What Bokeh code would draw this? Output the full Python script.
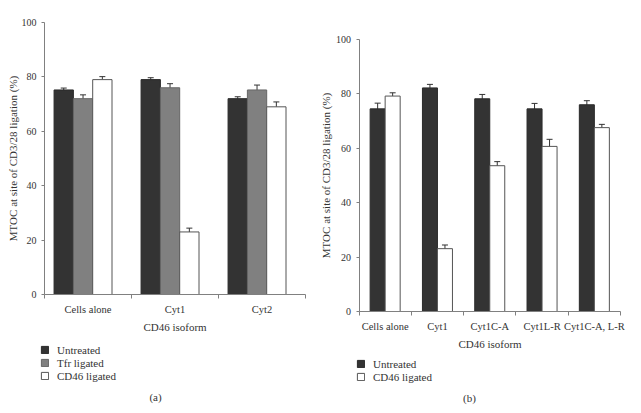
from bokeh.plotting import figure
from bokeh.layouts import row
from bokeh.models import (Range1d, FixedTicker, ColumnDataSource, Whisker, TeeHead,
                          Legend, LegendItem, Label)
from bokeh.embed import file_html
from bokeh.resources import INLINE

# ---------------- data ----------------
cats_a = ["Cells alone", "Cyt1", "Cyt2"]
untreated_a = [75.2, 79.0, 72.0]
untreated_a_err = [0.7, 0.7, 0.7]
tfr_a = [72.0, 76.0, 75.2]
tfr_a_err = [1.4, 1.5, 1.8]
cd46_a = [79.0, 23.0, 69.0]
cd46_a_err = [1.1, 1.4, 1.8]

cats_b = ["Cells alone", "Cyt1", "Cyt1C-A", "Cyt1L-R", "Cyt1C-A, L-R"]
untreated_b = [74.5, 82.2, 78.2, 74.5, 76.0]
untreated_b_err = [2.1, 1.3, 1.6, 2.0, 1.5]
cd46_b = [79.2, 23.1, 53.6, 60.7, 67.6]
cd46_b_err = [1.2, 1.35, 1.5, 2.6, 1.2]

y_ticks = [0, 20, 40, 60, 80, 100]

series_a = ["Untreated", "Tfr ligated", "CD46 ligated"]
series_b = ["Untreated", "CD46 ligated"]

FONT = "Liberation Serif"
TXT = "#333333"
AX = "#808080"
FILLS = {"Untreated": "#333333", "Tfr ligated": "#808080", "CD46 ligated": "white"}
LINES = {"Untreated": "#2a2a2a", "Tfr ligated": "#666666", "CD46 ligated": "#555555"}

YLABEL = "MTOC at site of CD3/28 ligation (%)"
XLABEL = "CD46 isoform"

H = 405  # figure height (px)


def make_panel(width, cats, ax_left, ax_right, y0_px, y100_px, ylab_standoff):
    """Figure whose frame covers the whole canvas; axes fixed at x=0 / y=0."""
    n = len(cats)
    ppx = (ax_right - ax_left) / n
    ppy = (y0_px - y100_px) / 100.0
    p = figure(width=width, height=H, output_backend="svg", toolbar_location=None,
               min_border=0, min_border_left=0, min_border_right=0,
               min_border_top=0, min_border_bottom=0,
               x_range=Range1d(-ax_left / ppx, n + (width - ax_right) / ppx),
               y_range=Range1d(-(H - y0_px) / ppy, 100 + y100_px / ppy))
    p.xgrid.visible = False
    p.ygrid.visible = False
    p.outline_line_color = None
    p.background_fill_color = "white"
    p.border_fill_color = "white"

    xa = p.xaxis[0]
    centers = [i + 0.5 for i in range(n)]
    xa.fixed_location = 0
    xa.bounds = (0, n)
    xa.ticker = FixedTicker(ticks=centers, minor_ticks=list(range(n + 1)))
    xa.major_label_overrides = {c: name for c, name in zip(centers, cats)}
    xa.major_tick_out = 0
    xa.major_tick_in = 0
    xa.minor_tick_out = 4
    xa.minor_tick_in = 0
    xa.minor_tick_line_color = AX
    xa.axis_line_color = AX
    xa.major_label_text_font = FONT
    xa.major_label_text_font_size = "10.5px"
    xa.major_label_text_color = TXT
    xa.major_label_standoff = 5
    xa.axis_label = XLABEL
    xa.axis_label_text_font = FONT
    xa.axis_label_text_font_size = "11px"
    xa.axis_label_text_font_style = "normal"
    xa.axis_label_text_color = TXT
    xa.axis_label_standoff = 3

    ya = p.yaxis[0]
    ya.fixed_location = 0
    ya.bounds = (0, 100)
    ya.ticker = FixedTicker(ticks=y_ticks, minor_ticks=[])
    ya.major_tick_out = 3
    ya.major_tick_in = 0
    ya.major_tick_line_color = AX
    ya.axis_line_color = AX
    ya.major_label_text_font = FONT
    ya.major_label_text_font_size = "10px"
    ya.major_label_text_color = TXT
    ya.major_label_standoff = 5
    ya.axis_label = YLABEL
    ya.axis_label_text_font = FONT
    ya.axis_label_text_font_size = "11px"
    ya.axis_label_text_font_style = "normal"
    ya.axis_label_text_color = TXT
    ya.axis_label_standoff = ylab_standoff
    return p


def add_series(p, vals, errs, offset, width, name):
    xs = [i + 0.5 + offset for i in range(len(vals))]
    src = ColumnDataSource(dict(x=xs, top=vals,
                                lo=[v - e for v, e in zip(vals, errs)],
                                hi=[v + e for v, e in zip(vals, errs)]))
    r = p.vbar(x="x", top="top", width=width, bottom=0, source=src,
               fill_color=FILLS[name], line_color=LINES[name], line_width=1)
    w = Whisker(base="x", lower="lo", upper="hi", source=src,
                line_color="#333333", line_width=1,
                upper_head=TeeHead(size=6, line_color="#333333", line_width=1),
                lower_head=TeeHead(size=6, line_color="#333333", line_width=1))
    p.add_layout(w)
    return LegendItem(label=name, renderers=[r])


def add_legend_caption(p, items, vx, vy, caption, cx, cy):
    leg = Legend(items=items, location=(vx, vy), orientation="vertical",
                 glyph_width=9, glyph_height=9, label_height=13, spacing=0,
                 label_standoff=8, padding=0, margin=0,
                 border_line_color=None, background_fill_alpha=0,
                 label_text_font=FONT, label_text_font_size="11px",
                 label_text_color=TXT)
    p.add_layout(leg, "center")
    p.add_layout(Label(x=cx, y=cy, x_units="screen", y_units="screen", text=caption,
                       text_font=FONT, text_font_size="11px", text_color=TXT,
                       text_align="center", text_baseline="middle"))


# ---------------- panel (a) ----------------
pa = make_panel(320, cats_a, 44, 305, 294, 22, 0)
bw_a = 0.222
shift_a = -0.057
items_a = []
for k, (nm, vals, errs) in enumerate(zip(series_a, [untreated_a, tfr_a, cd46_a],
                                         [untreated_a_err, tfr_a_err, cd46_a_err])):
    items_a.append(add_series(pa, vals, errs, shift_a + (k - 1) * bw_a, bw_a, nm))
add_legend_caption(pa, items_a, 40, H - 382, "(a)", 155, H - 396)

# ---------------- panel (b) ----------------
pb = make_panel(313, cats_b, 38.5, 300, 311, 39, 2)
bw_b = 0.287
items_b = []
for k, (nm, vals, errs) in enumerate(zip(series_b, [untreated_b, cd46_b],
                                         [untreated_b_err, cd46_b_err])):
    items_b.append(add_series(pb, vals, errs, (k - 0.5) * bw_b, bw_b, nm))
add_legend_caption(pb, items_b, 36, H - 383, "(b)", 149, H - 397)

layout = row(pa, pb)
open("out.html", "w").write(file_html(layout, INLINE))
